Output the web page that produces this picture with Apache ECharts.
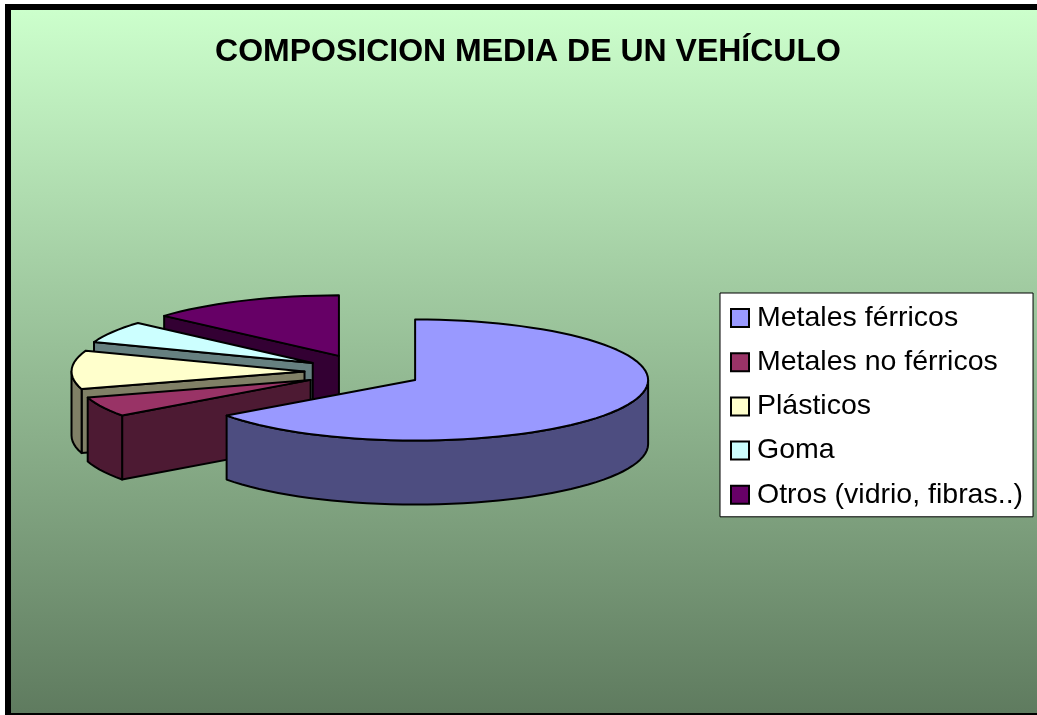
<!DOCTYPE html>
<html>
<head>
<meta charset="utf-8">
<style>html,body{margin:0;padding:0;background:#fff;overflow:hidden}#chart{width:1037px;height:715px}</style>
<script src="https://cdn.jsdelivr.net/npm/echarts@6/dist/echarts.min.js"></script>
</head>
<body>
<div id="chart"></div>
<script>
const titleText = 'COMPOSICION MEDIA DE UN VEHÍCULO';
const categories = ['Metales férricos', 'Metales no férricos', 'Plásticos', 'Goma', 'Otros (vidrio, fibras..)'];
const values = [65, 5.3, 10.3, 5.9, 13.5];
const topColors = ['#9999FF', '#993366', '#FFFFCC', '#CCFFFF', '#660066'];
const sideColors = ['#4D4D80', '#4D1A33', '#808066', '#668080', '#330033'];

const pie = { cx: 363, cy: 372, rx: 233, ry: 60.5, depth: 64, explodeX: 58.5, explodeY: 17.7 };
const total = values.reduce((a, b) => a + b, 0);
const rad = d => d * Math.PI / 180;

function startAngle(i) {
  let s = 0;
  for (let k = 0; k < i; k++) s += values[k];
  return s / total * 360;
}
function renderSlice(i, api) {
  const a = startAngle(i);
  const b = a + api.value(0) / total * 360;
  const mid = rad((a + b) / 2);
  const ox = pie.cx + pie.explodeX * Math.sin(mid);
  const oy = pie.cy - pie.explodeY * Math.cos(mid);
  const rim = (deg, dz) => [ox + pie.rx * Math.sin(rad(deg)), oy - pie.ry * Math.cos(rad(deg)) + dz];
  const arc = (from, to, dz) => {
    const pts = [];
    const n = Math.max(2, Math.ceil((to - from) / 3));
    for (let j = 0; j <= n; j++) pts.push(rim(from + (to - from) * j / n, dz));
    return pts;
  };
  const poly = (points, fill) => ({
    type: 'polygon',
    shape: { points },
    style: { fill, stroke: '#000', lineWidth: 2, lineJoin: 'round' }
  });
  const side = sideColors[i];
  const children = [];
  if (Math.sin(rad(a)) < -1e-6) {
    children.push(poly([[ox, oy], rim(a, 0), rim(a, pie.depth), [ox, oy + pie.depth]], side));
  }
  const w0 = Math.max(a, 90), w1 = Math.min(b, 270);
  if (w1 > w0) {
    children.push(poly(arc(w0, w1, 0).concat(arc(w0, w1, pie.depth).reverse()), side));
  }
  children.push(poly([[ox, oy]].concat(arc(a, b, 0)), topColors[i]));
  return { type: 'group', children };
}

const drawOrder = categories.map((_, i) => i).reverse();

const option = {
  animation: false,
  backgroundColor: '#fff',
  graphic: [
    { type: 'rect', z: 0, silent: true, shape: { x: 5, y: 4, width: 1032, height: 711 }, style: { fill: '#000' } },
    { type: 'rect', z: 1, silent: true, shape: { x: 11, y: 10, width: 1026, height: 703 },
      style: { fill: { type: 'linear', x: 0, y: 0, x2: 0, y2: 1,
        colorStops: [{ offset: 0, color: '#CCFFCC' }, { offset: 1, color: '#5F7B5F' }] } } }
  ],
  title: {
    text: titleText,
    left: 523, top: 31, textAlign: 'center',
    textStyle: { fontFamily: 'Liberation Sans', fontWeight: 'bold', fontSize: 32, color: '#000' }
  },
  legend: {
    data: categories,
    orient: 'vertical',
    left: 720, top: 293,
    padding: [10, 10, 7, 10],
    backgroundColor: '#fff',
    borderColor: '#000',
    borderWidth: 1,
    borderRadius: 0,
    icon: 'rect',
    itemWidth: 18, itemHeight: 18,
    itemGap: 14.2,
    selectedMode: false,
    itemStyle: { borderColor: '#000', borderWidth: 2 },
    textStyle: { fontFamily: 'Liberation Sans', fontSize: 28.5, color: '#000', lineHeight: 30, padding: [0, 0, 0, 3] }
  },
  series: drawOrder.map(i => ({
    type: 'custom',
    name: categories[i],
    coordinateSystem: 'none',
    z: 3,
    silent: true,
    itemStyle: { color: topColors[i] },
    data: [[values[i]]],
    renderItem: (params, api) => renderSlice(i, api)
  }))
};
const chart = echarts.init(document.getElementById('chart'), null, { renderer: 'canvas' });
chart.setOption(option);
</script>
</body>
</html>
